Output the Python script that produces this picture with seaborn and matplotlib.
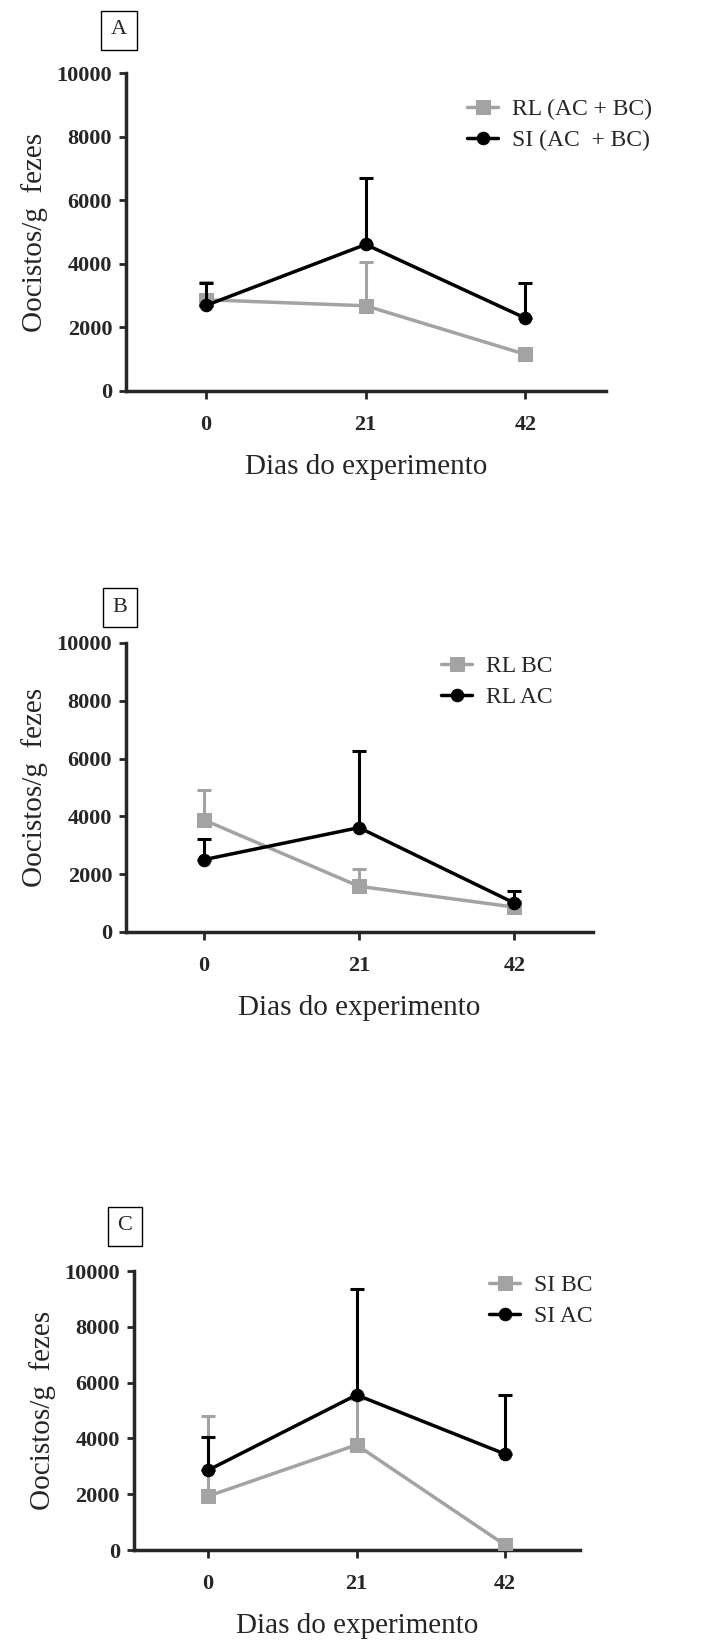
import matplotlib
matplotlib.use('Agg')
import matplotlib.pyplot as plt
import seaborn as sns

days = [0, 21, 42]

# panel A
a_rl = [2870, 2680, 1150]
a_rl_up = [3430, 4060, 1300]
a_si = [2690, 4610, 2290]
a_si_up = [3400, 6710, 3410]

# panel B
b_bc = [3880, 1580, 860]
b_bc_up = [4920, 2170, 1000]
b_ac = [2500, 3610, 1000]
b_ac_up = [3230, 6260, 1410]

# panel C
c_bc = [1930, 3770, 180]
c_bc_up = [4790, 5410, 250]
c_ac = [2860, 5560, 3440]
c_ac_up = [4040, 9360, 5560]

panels = [
    ('A', a_rl, a_rl_up, a_si, a_si_up, 'RL (AC + BC)', 'SI (AC  + BC)'),
    ('B', b_bc, b_bc_up, b_ac, b_ac_up, 'RL BC', 'RL AC'),
    ('C', c_bc, c_bc_up, c_ac, c_ac_up, 'SI BC', 'SI AC'),
]

# axes rects in figure fractions, box label and legend anchor
rects = [[0.179, 0.7625, 0.682, 0.193],
         [0.179, 0.4338, 0.663, 0.1756],
         [0.190, 0.0583, 0.634, 0.1695]]
boxes = [(119 / 704, 1 - 30 / 1646), (120 / 704, 1 - 607 / 1646), (125 / 704, 1 - 1226 / 1646)]
legs = [(458 / 704, 1 - 89 / 1646), (432 / 704, 1 - 646 / 1646), (480 / 704, 1 - 1265 / 1646)]

sns.set_style('ticks')
plt.rcParams['font.family'] = ['Liberation Serif', 'DejaVu Serif']

gray = '#a3a3a3'
fig = plt.figure(figsize=(7.04, 16.46), dpi=100)

for i, (tag, g, g_up, k, k_up, lab_g, lab_k) in enumerate(panels):
    ax = fig.add_axes(rects[i])
    g_err = [u - v for u, v in zip(g_up, g)]
    k_err = [u - v for u, v in zip(k_up, k)]
    ax.errorbar(days, g, yerr=[[0] * 3, g_err], fmt='none', ecolor=gray,
                elinewidth=2.2, capsize=5, capthick=2.2, zorder=2)
    sns.lineplot(x=days, y=g, ax=ax, color=gray, marker='s', markersize=10,
                 markeredgecolor=gray, linewidth=2.5, label=lab_g, zorder=3)
    ax.errorbar(days, k, yerr=[[0] * 3, k_err], fmt='none', ecolor='black',
                elinewidth=2.2, capsize=5, capthick=2.2, zorder=4)
    sns.lineplot(x=days, y=k, ax=ax, color='black', marker='o', markersize=9,
                 markeredgecolor='black', linewidth=2.5, label=lab_k, zorder=5)

    ax.set_xlim(-10.5, 52.6)
    ax.set_ylim(0, 10000)
    ax.set_xticks(days)
    ax.set_xticklabels(['0', '21', '42'])
    ax.set_yticks([0, 2000, 4000, 6000, 8000, 10000])
    for lab in ax.get_xticklabels() + ax.get_yticklabels():
        lab.set_fontweight('bold')
        lab.set_fontsize(16)
    ax.tick_params(axis='y', length=5, width=2, pad=5)
    ax.tick_params(axis='x', length=6, width=2, pad=11)
    for s in ['left', 'bottom']:
        ax.spines[s].set_linewidth(2.5)
    sns.despine(ax=ax)
    ax.set_xlabel('Dias do experimento', fontsize=21, labelpad=14)
    ax.set_ylabel('Oocistos/g  fezes', fontsize=21, labelpad=6)

    ax.legend(loc='upper left', bbox_to_anchor=legs[i], bbox_transform=fig.transFigure,
              frameon=False, fontsize=17, handlelength=1.3, handletextpad=0.6,
              labelspacing=0.4, borderaxespad=0)

    fig.text(boxes[i][0], boxes[i][1], tag, fontsize=16, ha='center', va='center',
             bbox=dict(boxstyle='square,pad=0.45', facecolor='white', edgecolor='black', linewidth=1))

fig.savefig('out.png', dpi=100)
